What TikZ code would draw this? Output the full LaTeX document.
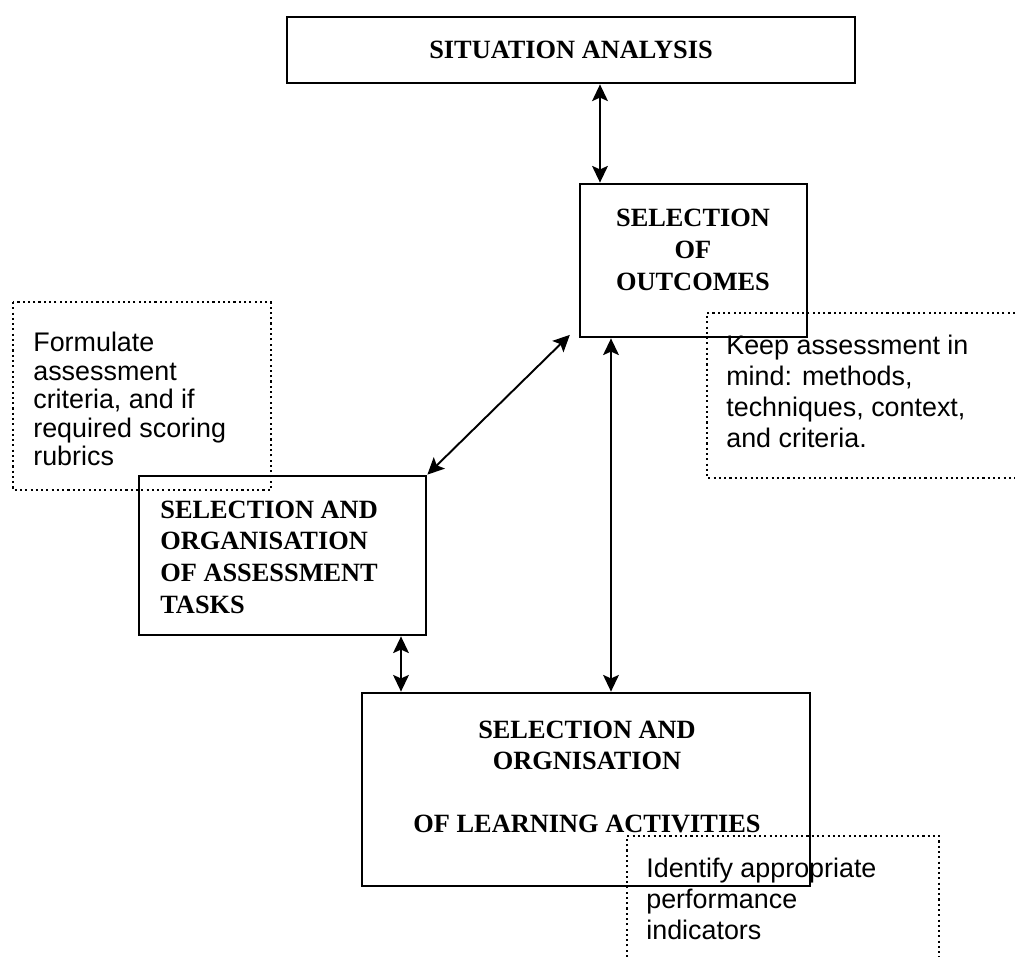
\documentclass[tikz,border=0pt]{standalone}
\usepackage{fontspec}
\setmainfont{Liberation Serif}
\newfontfamily\notefont{Liberation Sans}
\usetikzlibrary{arrows.meta}

\begin{document}
\begin{tikzpicture}[x=0.02cm,y=-0.02cm,
  stagebox/.style={draw,line width=1.6pt,inner sep=0pt},
  stagetext/.style={font=\bfseries\fontsize{15}{18}\selectfont,inner sep=0pt},
  notetext/.style={font=\notefont\fontsize{15.3}{17.5}\selectfont,align=left,inner sep=0pt,anchor=north west},
  notebox/.style={line width=1.2pt,dash pattern=on 1.2pt off 1.8pt},
  link/.style={{Stealth[length=9.5pt,width=9pt,inset=2pt]}-{Stealth[length=9.5pt,width=9pt,inset=2pt]},line width=1.1pt}]
\useasboundingbox (0,0) rectangle (1015,957);
% boxes
\node[stagebox,minimum width=11.36cm,minimum height=1.32cm] (sit) at (571,50) {};
\node[stagetext] (sit-t) at (571,50) {SITUATION ANALYSIS};
\node[stagebox,minimum width=4.54cm,minimum height=3.06cm] (outc) at (693.5,260.5) {};
\node[stagetext,align=center] (outc-t) at (693,250) {SELECTION\\OF\\OUTCOMES};
\node[stagebox,minimum width=5.74cm,minimum height=3.18cm] (asmt) at (282.5,555.5) {};
\node[stagetext,align=left,anchor=west] (asmt-t) at (160,557) {SELECTION AND\\ORGANISATION\\OF ASSESSMENT\\TASKS};
\node[stagebox,minimum width=8.96cm,minimum height=3.86cm] (learn) at (586,789.5) {};
\node[stagetext,align=center] (learn-t) at (587,777) {SELECTION AND\\ORGNISATION\\[18pt]OF LEARNING ACTIVITIES};
% notes
\draw[notebox] (13,302) rectangle (271,490);
\node[notetext,font=\notefont\fontsize{15.3}{16.2}\selectfont] (crit) at (33,332) {Formulate\\assessment\\criteria, and if\\required scoring\\rubrics};
\draw[notebox] (1015,313) -- (707,313) -- (707,478) -- (1015,478);
\node[notetext] (keep) at (726,335) {Keep assessment in\\mind: methods,\\techniques, context,\\and criteria.};
\draw[notebox] (627,957) -- (627,836) -- (939,836) -- (939,957);
\node[notetext] (ident) at (646,858) {Identify appropriate\\performance\\indicators};
% arrows
\draw[link] (sit.south -| 600,0) -- (outc.north -| 600,0);
\draw[link] (asmt.north east) -- ([xshift=-5pt,yshift=2pt]outc.south west);
\draw[link] (outc.south -| 611,0) -- (learn.north -| 611,0);
\draw[link] (asmt.south -| 401,0) -- (learn.north -| 401,0);
\end{tikzpicture}
\end{document}
